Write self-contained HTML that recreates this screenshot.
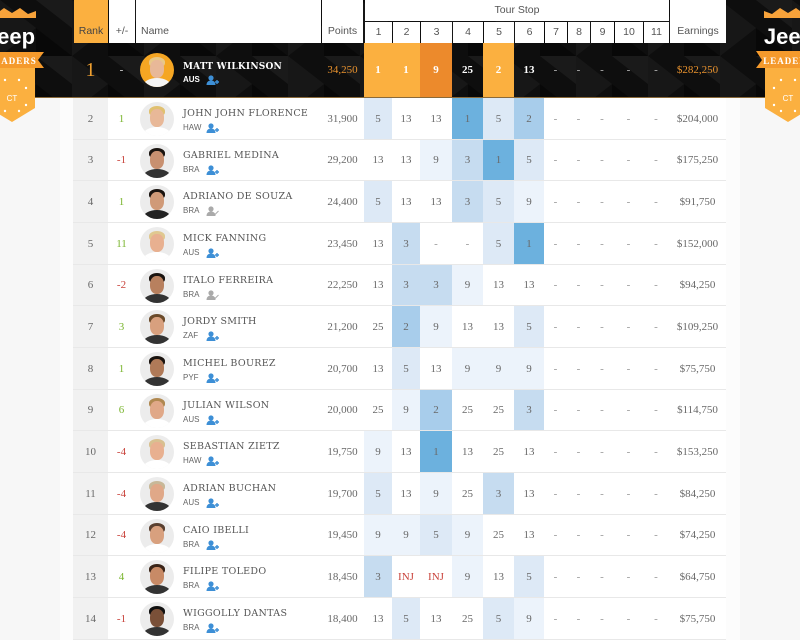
<!DOCTYPE html>
<html><head><meta charset="utf-8">
<style>
*{box-sizing:border-box}
body{margin:0;width:800px;height:640px;overflow:hidden;position:relative;background:#f7f7f7;font-family:"Liberation Sans",sans-serif}
.abs{position:absolute}
.hc{position:absolute;background:#fff;color:#555;font-size:10.5px;text-align:center}
.hc span{position:absolute;left:0;right:0;top:24px;line-height:14px}
.r{position:absolute;left:73px;width:653px;height:41.67px}
.r::after{content:"";position:absolute;left:0;right:0;bottom:0;height:1px;background:#e8e8e8}
.c{position:absolute;top:0;height:100%;display:flex;align-items:center;justify-content:center;font:11px "Liberation Serif",serif;color:#686868}
.rk{left:0;width:35px;background:#f1f1f1}
.pm{left:35px;width:27px}
.pt{left:248px;width:43px}
.s1{left:291px;width:28px}.s2{left:319px;width:28px}.s3{left:347px;width:32px}
.s4{left:379px;width:31px}.s5{left:410px;width:31px}.s6{left:441px;width:30px}
.s7{left:471px;width:23px}.s8{left:494px;width:23px}.s9{left:517px;width:24px}
.s10{left:541px;width:29px}.s11{left:570px;width:26px}
.er{left:596px;width:57px}
.g{color:#7ab52e}.rd{color:#c9443c}
.d{color:#999}
.v1{background:#6cb1de}.v2{background:#a8cdeb}.v3{background:#c6dcf0}.v5{background:#dde9f6}.v9{background:#ecf3fb}
.av{position:absolute;left:67px;top:4px;width:34px;height:34px;border-radius:50%;background:#ececec;overflow:hidden}
.av b{position:absolute;display:block}
.hr{left:9px;top:4px;width:16px;height:10px;border-radius:50% 50% 35% 35%}
.fc{left:10px;top:7px;width:14px;height:18px;border-radius:45%;background:#d9a07e}
.sh{left:3px;top:25px;width:28px;height:16px;border-radius:50% 50% 0 0}
.nm{position:absolute;left:110px;top:10px;font:9.5px/12px "DejaVu Serif",serif;color:#555;letter-spacing:0.3px;white-space:nowrap}
.ct{position:absolute;left:110px;top:25px;font:8px/10px "Liberation Sans",sans-serif;color:#666;white-space:nowrap}
.ic{position:absolute;left:23px;top:0;color:#3d8fd6}
.ic.gr{color:#aaa}
</style></head><body>

<svg class="abs" style="left:0;top:0" width="800" height="98">
<defs><pattern id="tri" width="72" height="56" patternUnits="userSpaceOnUse">
<rect width="72" height="56" fill="#0e0e0e"/>
<path d="M0 0L36 28L0 56Z" fill="#171717"/>
<path d="M36 0L72 0L72 28Z" fill="#1a1a1a"/>
<path d="M36 28L72 56L36 56Z" fill="#080808"/>
</pattern></defs>
<rect width="800" height="98" fill="url(#tri)"/>
<rect x="0" y="97" width="800" height="1" fill="#8a6a3a"/>
</svg>

<div class="abs" style="left:60px;top:98px;width:680px;height:542px;background:#fcfcfc"></div>
<div class="abs" style="left:73px;top:98px;width:653px;height:542px;background:#fff"></div>

<div class="hc" style="left:74px;top:0;width:34px;height:43px;background:#fbb040;color:#444"><span>Rank</span></div>
<div class="hc" style="left:109px;top:0;width:26px;height:43px"><span>+/-</span></div>
<div class="hc" style="left:136px;top:0;width:185px;height:43px;text-align:left"><span style="left:5px">Name</span></div>
<div class="hc" style="left:322px;top:0;width:41px;height:43px"><span>Points</span></div>
<div class="hc" style="left:365px;top:0;width:304px;height:21px"><span style="top:3px">Tour Stop</span></div>
<div class="hc" style="left:365px;top:22px;width:27px;height:21px"><span style="top:3px">1</span></div>
<div class="hc" style="left:393px;top:22px;width:27px;height:21px"><span style="top:3px">2</span></div>
<div class="hc" style="left:421px;top:22px;width:31px;height:21px"><span style="top:3px">3</span></div>
<div class="hc" style="left:453px;top:22px;width:30px;height:21px"><span style="top:3px">4</span></div>
<div class="hc" style="left:484px;top:22px;width:30px;height:21px"><span style="top:3px">5</span></div>
<div class="hc" style="left:515px;top:22px;width:29px;height:21px"><span style="top:3px">6</span></div>
<div class="hc" style="left:545px;top:22px;width:22px;height:21px"><span style="top:3px">7</span></div>
<div class="hc" style="left:568px;top:22px;width:22px;height:21px"><span style="top:3px">8</span></div>
<div class="hc" style="left:591px;top:22px;width:23px;height:21px"><span style="top:3px">9</span></div>
<div class="hc" style="left:615px;top:22px;width:28px;height:21px"><span style="top:3px">10</span></div>
<div class="hc" style="left:644px;top:22px;width:25px;height:21px"><span style="top:3px">11</span></div>
<div class="hc" style="left:670px;top:0;width:56px;height:43px"><span>Earnings</span></div>

<div class="abs" style="left:73px;top:43px;width:653px;height:54px">
<span class="c rk" style="background:transparent;color:#f0a030;font-size:20px">1</span>
<span class="c pm" style="color:#ddd">-</span>
<div class="av" style="top:10px;background:#f5a623"><b class="hr" style="background:#e8c888"></b><b class="fc" style="background:#e8b898"></b><b class="sh" style="background:#f4f4f4"></b></div>
<div class="nm" style="top:18px;color:#fff;font-weight:bold;font-size:9px;letter-spacing:0.2px">MATT WILKINSON</div>
<div class="ct" style="top:32px;color:#fff;font-weight:bold">AUS<svg class="ic" width="13" height="10" viewBox="0 0 13 10" fill="currentColor"><circle cx="5" cy="3" r="2.6"/><path d="M0.5 10c0-3 2-4.5 4.5-4.5s4.5 1.5 4.5 4.5z"/><path d="M9 7h4M11 5v4" stroke="currentColor" stroke-width="1.4"/></svg></div>
<span class="c pt" style="color:#e8922e">34,250</span>
<span class="c s1" style="background:#fbb040;color:#fff;font-weight:bold">1</span>
<span class="c s2" style="background:#fbb040;color:#fff;font-weight:bold">1</span>
<span class="c s3" style="background:#ec8a2c;color:#fff;font-weight:bold">9</span>
<span class="c s4" style="color:#fff;font-weight:bold">25</span>
<span class="c s5" style="background:#fbb040;color:#fff;font-weight:bold">2</span>
<span class="c s6" style="color:#fff;font-weight:bold">13</span>
<span class="c s7" style="color:#bbb">-</span><span class="c s8" style="color:#bbb">-</span><span class="c s9" style="color:#bbb">-</span><span class="c s10" style="color:#bbb">-</span><span class="c s11" style="color:#bbb">-</span>
<span class="c er" style="color:#e8922e">$282,250</span>
</div>

<div class="r" style="top:98px">
<span class="c rk">2</span><span class="c pm g">1</span>
<div class="av"><b class="hr" style="background:#e0c070"></b><b class="fc" style="background:#e8b898"></b><b class="sh" style="background:#fff"></b></div>
<div class="nm">JOHN JOHN FLORENCE</div>
<div class="ct">HAW<svg class="ic" width="13" height="10" viewBox="0 0 13 10" fill="currentColor"><circle cx="5" cy="3" r="2.6"/><path d="M0.5 10c0-3 2-4.5 4.5-4.5s4.5 1.5 4.5 4.5z"/><path d="M9 7h4M11 5v4" stroke="currentColor" stroke-width="1.4"/></svg></div>
<span class="c pt">31,900</span>
<span class="c s1 v5">5</span><span class="c s2">13</span><span class="c s3">13</span><span class="c s4 v1">1</span><span class="c s5 v5">5</span><span class="c s6 v2">2</span>
<span class="c s7 d">-</span><span class="c s8 d">-</span><span class="c s9 d">-</span><span class="c s10 d">-</span><span class="c s11 d">-</span>
<span class="c er">$204,000</span>
</div>

<div class="r" style="top:139.67px">
<span class="c rk">3</span><span class="c pm rd">-1</span>
<div class="av"><b class="hr" style="background:#1a1410"></b><b class="fc" style="background:#c89070"></b><b class="sh" style="background:#333"></b></div>
<div class="nm">GABRIEL MEDINA</div>
<div class="ct">BRA<svg class="ic" width="13" height="10" viewBox="0 0 13 10" fill="currentColor"><circle cx="5" cy="3" r="2.6"/><path d="M0.5 10c0-3 2-4.5 4.5-4.5s4.5 1.5 4.5 4.5z"/><path d="M9 7h4M11 5v4" stroke="currentColor" stroke-width="1.4"/></svg></div>
<span class="c pt">29,200</span>
<span class="c s1">13</span><span class="c s2">13</span><span class="c s3 v9">9</span><span class="c s4 v3">3</span><span class="c s5 v1">1</span><span class="c s6 v5">5</span>
<span class="c s7 d">-</span><span class="c s8 d">-</span><span class="c s9 d">-</span><span class="c s10 d">-</span><span class="c s11 d">-</span>
<span class="c er">$175,250</span>
</div>

<div class="r" style="top:181.33px">
<span class="c rk">4</span><span class="c pm g">1</span>
<div class="av"><b class="hr" style="background:#1a1410"></b><b class="fc" style="background:#d09a78"></b><b class="sh" style="background:#222"></b></div>
<div class="nm">ADRIANO DE SOUZA</div>
<div class="ct">BRA<svg class="ic gr" width="13" height="10" viewBox="0 0 13 10" fill="currentColor"><circle cx="5" cy="3" r="2.6"/><path d="M0.5 10c0-3 2-4.5 4.5-4.5s4.5 1.5 4.5 4.5z"/><path d="M8.5 9l4-4" stroke="currentColor" stroke-width="1"/></svg></div>
<span class="c pt">24,400</span>
<span class="c s1 v5">5</span><span class="c s2">13</span><span class="c s3">13</span><span class="c s4 v3">3</span><span class="c s5 v5">5</span><span class="c s6 v9">9</span>
<span class="c s7 d">-</span><span class="c s8 d">-</span><span class="c s9 d">-</span><span class="c s10 d">-</span><span class="c s11 d">-</span>
<span class="c er">$91,750</span>
</div>

<div class="r" style="top:223px">
<span class="c rk">5</span><span class="c pm g">11</span>
<div class="av"><b class="hr" style="background:#e0c890"></b><b class="fc" style="background:#e8b090"></b><b class="sh" style="background:#fff"></b></div>
<div class="nm">MICK FANNING</div>
<div class="ct">AUS<svg class="ic" width="13" height="10" viewBox="0 0 13 10" fill="currentColor"><circle cx="5" cy="3" r="2.6"/><path d="M0.5 10c0-3 2-4.5 4.5-4.5s4.5 1.5 4.5 4.5z"/><path d="M9 7h4M11 5v4" stroke="currentColor" stroke-width="1.4"/></svg></div>
<span class="c pt">23,450</span>
<span class="c s1">13</span><span class="c s2 v3">3</span><span class="c s3 d">-</span><span class="c s4 d">-</span><span class="c s5 v5">5</span><span class="c s6 v1">1</span>
<span class="c s7 d">-</span><span class="c s8 d">-</span><span class="c s9 d">-</span><span class="c s10 d">-</span><span class="c s11 d">-</span>
<span class="c er">$152,000</span>
</div>

<div class="r" style="top:264.67px">
<span class="c rk">6</span><span class="c pm rd">-2</span>
<div class="av"><b class="hr" style="background:#1a1410"></b><b class="fc" style="background:#b8805e"></b><b class="sh" style="background:#333"></b></div>
<div class="nm">ITALO FERREIRA</div>
<div class="ct">BRA<svg class="ic gr" width="13" height="10" viewBox="0 0 13 10" fill="currentColor"><circle cx="5" cy="3" r="2.6"/><path d="M0.5 10c0-3 2-4.5 4.5-4.5s4.5 1.5 4.5 4.5z"/><path d="M8.5 9l4-4" stroke="currentColor" stroke-width="1"/></svg></div>
<span class="c pt">22,250</span>
<span class="c s1">13</span><span class="c s2 v3">3</span><span class="c s3 v3">3</span><span class="c s4 v9">9</span><span class="c s5">13</span><span class="c s6">13</span>
<span class="c s7 d">-</span><span class="c s8 d">-</span><span class="c s9 d">-</span><span class="c s10 d">-</span><span class="c s11 d">-</span>
<span class="c er">$94,250</span>
</div>

<div class="r" style="top:306.33px">
<span class="c rk">7</span><span class="c pm g">3</span>
<div class="av"><b class="hr" style="background:#6a4a2a"></b><b class="fc" style="background:#d8a07e"></b><b class="sh" style="background:#333"></b></div>
<div class="nm">JORDY SMITH</div>
<div class="ct">ZAF<svg class="ic" width="13" height="10" viewBox="0 0 13 10" fill="currentColor"><circle cx="5" cy="3" r="2.6"/><path d="M0.5 10c0-3 2-4.5 4.5-4.5s4.5 1.5 4.5 4.5z"/><path d="M9 7h4M11 5v4" stroke="currentColor" stroke-width="1.4"/></svg></div>
<span class="c pt">21,200</span>
<span class="c s1">25</span><span class="c s2 v2">2</span><span class="c s3 v9">9</span><span class="c s4">13</span><span class="c s5">13</span><span class="c s6 v5">5</span>
<span class="c s7 d">-</span><span class="c s8 d">-</span><span class="c s9 d">-</span><span class="c s10 d">-</span><span class="c s11 d">-</span>
<span class="c er">$109,250</span>
</div>

<div class="r" style="top:348px">
<span class="c rk">8</span><span class="c pm g">1</span>
<div class="av"><b class="hr" style="background:#1a1410"></b><b class="fc" style="background:#b07a58"></b><b class="sh" style="background:#333"></b></div>
<div class="nm">MICHEL BOUREZ</div>
<div class="ct">PYF<svg class="ic" width="13" height="10" viewBox="0 0 13 10" fill="currentColor"><circle cx="5" cy="3" r="2.6"/><path d="M0.5 10c0-3 2-4.5 4.5-4.5s4.5 1.5 4.5 4.5z"/><path d="M9 7h4M11 5v4" stroke="currentColor" stroke-width="1.4"/></svg></div>
<span class="c pt">20,700</span>
<span class="c s1">13</span><span class="c s2 v5">5</span><span class="c s3">13</span><span class="c s4 v9">9</span><span class="c s5 v9">9</span><span class="c s6 v9">9</span>
<span class="c s7 d">-</span><span class="c s8 d">-</span><span class="c s9 d">-</span><span class="c s10 d">-</span><span class="c s11 d">-</span>
<span class="c er">$75,750</span>
</div>

<div class="r" style="top:389.67px">
<span class="c rk">9</span><span class="c pm g">6</span>
<div class="av"><b class="hr" style="background:#b08850"></b><b class="fc" style="background:#e0a888"></b><b class="sh" style="background:#fff"></b></div>
<div class="nm">JULIAN WILSON</div>
<div class="ct">AUS<svg class="ic" width="13" height="10" viewBox="0 0 13 10" fill="currentColor"><circle cx="5" cy="3" r="2.6"/><path d="M0.5 10c0-3 2-4.5 4.5-4.5s4.5 1.5 4.5 4.5z"/><path d="M9 7h4M11 5v4" stroke="currentColor" stroke-width="1.4"/></svg></div>
<span class="c pt">20,000</span>
<span class="c s1">25</span><span class="c s2 v9">9</span><span class="c s3 v2">2</span><span class="c s4">25</span><span class="c s5">25</span><span class="c s6 v3">3</span>
<span class="c s7 d">-</span><span class="c s8 d">-</span><span class="c s9 d">-</span><span class="c s10 d">-</span><span class="c s11 d">-</span>
<span class="c er">$114,750</span>
</div>

<div class="r" style="top:431.33px">
<span class="c rk">10</span><span class="c pm rd">-4</span>
<div class="av"><b class="hr" style="background:#d8c090"></b><b class="fc" style="background:#e8b090"></b><b class="sh" style="background:#fff"></b></div>
<div class="nm">SEBASTIAN ZIETZ</div>
<div class="ct">HAW<svg class="ic" width="13" height="10" viewBox="0 0 13 10" fill="currentColor"><circle cx="5" cy="3" r="2.6"/><path d="M0.5 10c0-3 2-4.5 4.5-4.5s4.5 1.5 4.5 4.5z"/><path d="M9 7h4M11 5v4" stroke="currentColor" stroke-width="1.4"/></svg></div>
<span class="c pt">19,750</span>
<span class="c s1 v9">9</span><span class="c s2">13</span><span class="c s3 v1">1</span><span class="c s4">13</span><span class="c s5">25</span><span class="c s6">13</span>
<span class="c s7 d">-</span><span class="c s8 d">-</span><span class="c s9 d">-</span><span class="c s10 d">-</span><span class="c s11 d">-</span>
<span class="c er">$153,250</span>
</div>

<div class="r" style="top:473px">
<span class="c rk">11</span><span class="c pm rd">-4</span>
<div class="av"><b class="hr" style="background:#c8b898"></b><b class="fc" style="background:#e0a888"></b><b class="sh" style="background:#333"></b></div>
<div class="nm">ADRIAN BUCHAN</div>
<div class="ct">AUS<svg class="ic" width="13" height="10" viewBox="0 0 13 10" fill="currentColor"><circle cx="5" cy="3" r="2.6"/><path d="M0.5 10c0-3 2-4.5 4.5-4.5s4.5 1.5 4.5 4.5z"/><path d="M9 7h4M11 5v4" stroke="currentColor" stroke-width="1.4"/></svg></div>
<span class="c pt">19,700</span>
<span class="c s1 v5">5</span><span class="c s2">13</span><span class="c s3 v9">9</span><span class="c s4">25</span><span class="c s5 v3">3</span><span class="c s6">13</span>
<span class="c s7 d">-</span><span class="c s8 d">-</span><span class="c s9 d">-</span><span class="c s10 d">-</span><span class="c s11 d">-</span>
<span class="c er">$84,250</span>
</div>

<div class="r" style="top:514.67px">
<span class="c rk">12</span><span class="c pm rd">-4</span>
<div class="av"><b class="hr" style="background:#5a4030"></b><b class="fc" style="background:#d8a07e"></b><b class="sh" style="background:#fff"></b></div>
<div class="nm">CAIO IBELLI</div>
<div class="ct">BRA<svg class="ic" width="13" height="10" viewBox="0 0 13 10" fill="currentColor"><circle cx="5" cy="3" r="2.6"/><path d="M0.5 10c0-3 2-4.5 4.5-4.5s4.5 1.5 4.5 4.5z"/><path d="M9 7h4M11 5v4" stroke="currentColor" stroke-width="1.4"/></svg></div>
<span class="c pt">19,450</span>
<span class="c s1 v9">9</span><span class="c s2 v9">9</span><span class="c s3 v5">5</span><span class="c s4 v9">9</span><span class="c s5">25</span><span class="c s6">13</span>
<span class="c s7 d">-</span><span class="c s8 d">-</span><span class="c s9 d">-</span><span class="c s10 d">-</span><span class="c s11 d">-</span>
<span class="c er">$74,250</span>
</div>

<div class="r" style="top:556.33px">
<span class="c rk">13</span><span class="c pm g">4</span>
<div class="av"><b class="hr" style="background:#3a2418"></b><b class="fc" style="background:#c88a66"></b><b class="sh" style="background:#333"></b></div>
<div class="nm">FILIPE TOLEDO</div>
<div class="ct">BRA<svg class="ic" width="13" height="10" viewBox="0 0 13 10" fill="currentColor"><circle cx="5" cy="3" r="2.6"/><path d="M0.5 10c0-3 2-4.5 4.5-4.5s4.5 1.5 4.5 4.5z"/><path d="M9 7h4M11 5v4" stroke="currentColor" stroke-width="1.4"/></svg></div>
<span class="c pt">18,450</span>
<span class="c s1 v3">3</span><span class="c s2 rd">INJ</span><span class="c s3 rd">INJ</span><span class="c s4 v9">9</span><span class="c s5">13</span><span class="c s6 v5">5</span>
<span class="c s7 d">-</span><span class="c s8 d">-</span><span class="c s9 d">-</span><span class="c s10 d">-</span><span class="c s11 d">-</span>
<span class="c er">$64,750</span>
</div>

<div class="r" style="top:598px">
<span class="c rk">14</span><span class="c pm rd">-1</span>
<div class="av"><b class="hr" style="background:#111"></b><b class="fc" style="background:#7a5038"></b><b class="sh" style="background:#333"></b></div>
<div class="nm">WIGGOLLY DANTAS</div>
<div class="ct">BRA<svg class="ic" width="13" height="10" viewBox="0 0 13 10" fill="currentColor"><circle cx="5" cy="3" r="2.6"/><path d="M0.5 10c0-3 2-4.5 4.5-4.5s4.5 1.5 4.5 4.5z"/><path d="M9 7h4M11 5v4" stroke="currentColor" stroke-width="1.4"/></svg></div>
<span class="c pt">18,400</span>
<span class="c s1">13</span><span class="c s2 v5">5</span><span class="c s3">13</span><span class="c s4">25</span><span class="c s5 v5">5</span><span class="c s6 v9">9</span>
<span class="c s7 d">-</span><span class="c s8 d">-</span><span class="c s9 d">-</span><span class="c s10 d">-</span><span class="c s11 d">-</span>
<span class="c er">$75,750</span>
</div>

<svg class="abs" style="left:-28px;top:0" width="80" height="130" viewBox="0 0 80 130">
<path d="M16 11L24 14L32 8L40 13L48 8L56 14L64 11L64 18L16 18Z" fill="#f7a23a"/>
<text x="38" y="44" text-anchor="middle" font-family="Liberation Sans" font-weight="bold" font-size="22" fill="#fff">Jeep</text>
<path d="M8 52L72 52L66 60L72 68L8 68L14 60Z" fill="#f59a2c"/>
<text x="40" y="64" text-anchor="middle" font-family="Liberation Serif" font-weight="bold" font-size="9" letter-spacing="1" fill="#fff">LEADERS</text>
<path d="M17 68L63 68L63 108L40 122L17 108Z" fill="#fbb040"/>
<text x="40" y="101" text-anchor="middle" font-family="Liberation Sans" font-size="8" fill="#fff">CT</text>
<g fill="#fff"><circle cx="33" cy="80" r="1.2"/><circle cx="47" cy="80" r="1.2"/><circle cx="26" cy="88" r="1.2"/><circle cx="54" cy="88" r="1.2"/><circle cx="26" cy="105" r="1.2"/><circle cx="54" cy="105" r="1.2"/><circle cx="33" cy="111" r="1.2"/><circle cx="47" cy="111" r="1.2"/></g>
</svg>
<svg class="abs" style="left:748px;top:0" width="80" height="130" viewBox="0 0 80 130">
<path d="M16 11L24 14L32 8L40 13L48 8L56 14L64 11L64 18L16 18Z" fill="#f7a23a"/>
<text x="41" y="44" text-anchor="middle" font-family="Liberation Sans" font-weight="bold" font-size="22" fill="#fff">Jeep</text>
<path d="M8 51L72 51L66 60L72 68L8 68L14 60Z" fill="#f59a2c"/>
<text x="40" y="64" text-anchor="middle" font-family="Liberation Serif" font-weight="bold" font-size="9" letter-spacing="1" fill="#fff">LEADERS</text>
<path d="M17 68L63 68L63 108L40 122L17 108Z" fill="#fbb040"/>
<text x="40" y="101" text-anchor="middle" font-family="Liberation Sans" font-size="8" fill="#fff">CT</text>
<g fill="#fff"><circle cx="33" cy="80" r="1.2"/><circle cx="47" cy="80" r="1.2"/><circle cx="26" cy="88" r="1.2"/><circle cx="54" cy="88" r="1.2"/><circle cx="26" cy="105" r="1.2"/><circle cx="54" cy="105" r="1.2"/><circle cx="33" cy="111" r="1.2"/><circle cx="47" cy="111" r="1.2"/></g>
</svg>

</body></html>
